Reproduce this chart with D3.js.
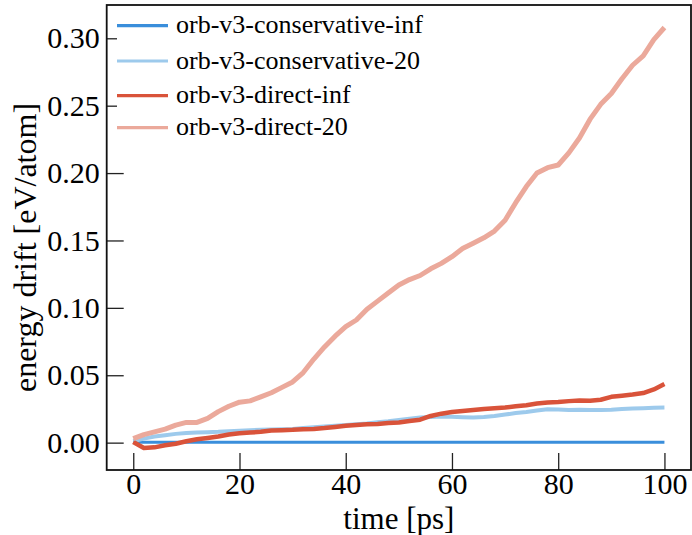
<!DOCTYPE html>
<html><head><meta charset="utf-8">
<script src="https://cdn.jsdelivr.net/npm/d3@7"></script>
<style>body{margin:0;background:#fff}svg{display:block}</style>
</head><body>
<svg id="chart" width="692" height="535"></svg>
<script>
const time = [0,2,4,6,8,10,12,14,16,18,20,22,24,26,28,30,32,34,36,38,40,42,44,46,48,50,52,54,56,58,60,62,64,66,68,70,72,74,76,78,80,82,84,86,88,90,92,94,96,98,100];
const consInf = [0.0005,0.0003,0.0002,0.0003,0.0002,0.0003,0.0002,0.0002,0.0003,0.0002,0.0002,0.0003,0.0002,0.0002,0.0003,0.0002,0.0002,0.0003,0.0002,0.0002,0.0002,0.0003,0.0002,0.0002,0.0003,0.0002,0.0002,0.0002,0.0003,0.0002,0.0002,0.0003,0.0002,0.0002,0.0003,0.0002,0.0002,0.0003,0.0002,0.0002,0.0003,0.0002,0.0002,0.0003,0.0002,0.0002,0.0003,0.0002,0.0002,0.0003,0.0002];
const cons20 = [0.001,0.003,0.0045,0.0055,0.0065,0.0072,0.0076,0.0078,0.008,0.0085,0.0089,0.0092,0.0095,0.0097,0.0099,0.0102,0.0108,0.0114,0.012,0.0126,0.013,0.0136,0.0142,0.0152,0.0158,0.0168,0.0178,0.0186,0.019,0.0193,0.0192,0.0189,0.0187,0.019,0.0197,0.0208,0.022,0.0228,0.0238,0.0248,0.0245,0.0243,0.0244,0.0242,0.0243,0.0244,0.0249,0.0253,0.0256,0.0259,0.026];
const directInf = [0.0005,-0.004,-0.0035,-0.002,-0.0008,0.001,0.0025,0.0035,0.0045,0.006,0.007,0.0075,0.008,0.009,0.0092,0.0095,0.010,0.0102,0.0108,0.0116,0.0125,0.013,0.0136,0.0139,0.0146,0.015,0.016,0.017,0.0198,0.0215,0.0228,0.0235,0.0242,0.025,0.0255,0.026,0.027,0.0278,0.029,0.0298,0.0302,0.0308,0.0312,0.031,0.0318,0.034,0.0348,0.0357,0.0368,0.0395,0.0435];
const direct20 = [0.003,0.006,0.008,0.010,0.013,0.015,0.015,0.018,0.023,0.027,0.030,0.031,0.034,0.037,0.041,0.045,0.052,0.062,0.071,0.079,0.086,0.091,0.099,0.105,0.111,0.117,0.121,0.124,0.129,0.133,0.138,0.144,0.148,0.152,0.157,0.165,0.178,0.190,0.200,0.204,0.206,0.215,0.226,0.240,0.251,0.259,0.270,0.280,0.287,0.299,0.308];
const seriesNames = ["orb-v3-conservative-inf","orb-v3-conservative-20","orb-v3-direct-inf","orb-v3-direct-20"];
const seriesColors = ["#3a8edb","#9dcaec","#d9533a","#eba99b"];
const seriesValues = [consInf, cons20, directInf, direct20];
const xTicks = [0,20,40,60,80,100];
const yTicks = [0.00,0.05,0.10,0.15,0.20,0.25,0.30];

const svg = d3.select("#chart");
const L = 106.7, R = 691, T = 5, B = 470;
const x = d3.scaleLinear().domain([-5,105]).range([L,R]);
const y = d3.scaleLinear().domain([-0.0203,0.3247]).range([B,T]);
const font = "'Liberation Serif','Times New Roman',serif";

svg.append("clipPath").attr("id","clip").append("rect")
  .attr("x",L).attr("y",T).attr("width",R-L).attr("height",B-T);

const widths = [3,4,4.5,5];
const line = d3.line().x((d,i)=>x(time[i])).y(d=>y(d));
const g = svg.append("g").attr("clip-path","url(#clip)");
seriesValues.forEach((vals,k)=>{
  g.append("path").datum(vals).attr("d",line)
    .attr("fill","none").attr("stroke",seriesColors[k])
    .attr("stroke-width",widths[k]).attr("stroke-linejoin","round");
});

// axes with inward ticks
const xAxis = svg.append("g").attr("transform",`translate(0,${B})`)
  .call(d3.axisBottom(x).tickValues(xTicks).tickSize(-17).tickPadding(3).tickFormat(d3.format("d")));
const yAxis = svg.append("g").attr("transform",`translate(${L},0)`)
  .call(d3.axisLeft(y).tickValues(yTicks).tickSize(-17).tickPadding(7).tickFormat(d3.format(".2f")));
[xAxis,yAxis].forEach(a=>{
  a.select(".domain").remove();
  a.selectAll(".tick line").attr("stroke","#222").attr("stroke-width",1.3);
  a.selectAll(".tick text").attr("font-family",font).attr("font-size",30).attr("fill","#000");
});

// legend (white background covers ticks)
const lg = svg.append("g");
lg.append("rect").attr("x",117).attr("y",9).attr("width",318).attr("height",134).attr("fill","#fff");
const rowY = [25.7,61,95.7,127.7];
seriesNames.forEach((n,k)=>{
  lg.append("line").attr("x1",117).attr("x2",168).attr("y1",rowY[k]).attr("y2",rowY[k])
    .attr("stroke",seriesColors[k]).attr("stroke-width",3.2);
  lg.append("text").attr("x",176).attr("y",rowY[k]+7.6).text(n)
    .attr("font-family",font).attr("font-size",26).attr("fill","#000");
});

// frame
svg.append("rect").attr("x",L).attr("y",T).attr("width",R-L).attr("height",B-T)
  .attr("fill","none").attr("stroke","#111").attr("stroke-width",1.8);

svg.append("text").attr("x",(L+R)/2).attr("y",529).attr("text-anchor","middle")
  .attr("font-family",font).attr("font-size",31).text("time [ps]");
svg.append("text").attr("transform",`translate(36,${(T+B)/2+10}) rotate(-90)`).attr("text-anchor","middle")
  .attr("font-family",font).attr("font-size",32).text("energy drift [eV/atom]");
</script>
</body></html>
